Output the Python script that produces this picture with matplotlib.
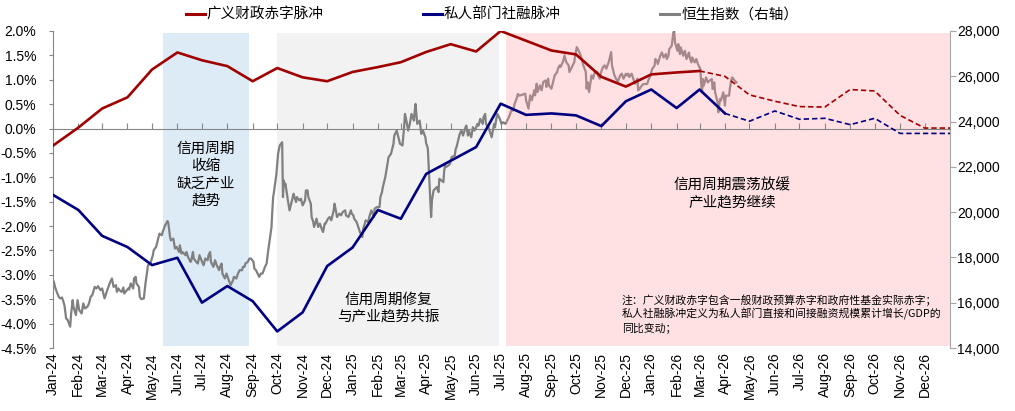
import matplotlib
matplotlib.use("Agg")
import matplotlib.pyplot as plt
import matplotlib.dates as mdates
import matplotlib.ticker as mticker
from matplotlib.lines import Line2D
import numpy as np
import pandas as pd

plt.rcParams["font.family"] = ["Liberation Sans", "Noto Sans CJK SC", "DejaVu Sans"]

# ---- 数据 ----
months = pd.date_range("2024-01-01", "2027-01-01", freq="MS")
fiscal_pulse = [-0.35, 0.02, 0.41, 0.64, 1.21, 1.56, 1.40, 1.28, 0.97, 1.24, 1.05, 0.97,
                1.16, 1.26, 1.36, 1.57, 1.73, 1.58, 2.00, 1.80, 1.60, 1.52, 1.06, 0.86,
                1.11, 1.15, 1.18, 1.07, 0.69, 0.56, 0.45, 0.44, 0.80, 0.77, 0.27, 0.01,
                0.01]
private_pulse = [-1.36, -1.67, -2.20, -2.43, -2.80, -2.65, -3.57, -3.23, -3.54, -4.16, -3.77, -2.82,
                 -2.44, -1.67, -1.85, -0.93, -0.66, -0.38, 0.51, 0.28, 0.31, 0.27, 0.05, 0.56,
                 0.80, 0.42, 0.80, 0.31, 0.15, 0.36, 0.19, 0.21, 0.08, 0.21, -0.10, -0.10,
                 -0.10]
fiscal_n_actual = 27    # 实线到 Mar-26，之后为预测虚线
private_n_actual = 28   # 实线到 Apr-26

hsi_dates = [
    "2024-01-02", "2024-01-04", "2024-01-08", "2024-01-10", "2024-01-12", "2024-01-15", "2024-01-17",
    "2024-01-19", "2024-01-22", "2024-01-23", "2024-01-25", "2024-01-26", "2024-01-29", "2024-01-31",
    "2024-02-02", "2024-02-05", "2024-02-07", "2024-02-09", "2024-02-12", "2024-02-14", "2024-02-16",
    "2024-02-18", "2024-02-21", "2024-02-23", "2024-02-25", "2024-02-28", "2024-03-01", "2024-03-04",
    "2024-03-06", "2024-03-08", "2024-03-11", "2024-03-13", "2024-03-15", "2024-03-18", "2024-03-19",
    "2024-03-21", "2024-03-22", "2024-03-25", "2024-03-27", "2024-03-28", "2024-04-02", "2024-04-03",
    "2024-04-05", "2024-04-08", "2024-04-09", "2024-04-11", "2024-04-12", "2024-04-15", "2024-04-16",
    "2024-04-18", "2024-04-21", "2024-04-23", "2024-04-25", "2024-04-26", "2024-04-29", "2024-05-02",
    "2024-05-03", "2024-05-06", "2024-05-07", "2024-05-10", "2024-05-13", "2024-05-14", "2024-05-17",
    "2024-05-20", "2024-05-21", "2024-05-23", "2024-05-24", "2024-05-27", "2024-05-29", "2024-05-31",
    "2024-06-03", "2024-06-04", "2024-06-06", "2024-06-07", "2024-06-11", "2024-06-12", "2024-06-14",
    "2024-06-17", "2024-06-18", "2024-06-20", "2024-06-21", "2024-06-24", "2024-06-26", "2024-06-28",
    "2024-07-02", "2024-07-03", "2024-07-05", "2024-07-08", "2024-07-09", "2024-07-11", "2024-07-12",
    "2024-07-15", "2024-07-17", "2024-07-19", "2024-07-22", "2024-07-23", "2024-07-25", "2024-07-26",
    "2024-07-29", "2024-07-31", "2024-08-02", "2024-08-05", "2024-08-06", "2024-08-08", "2024-08-09",
    "2024-08-12", "2024-08-14", "2024-08-16", "2024-08-19", "2024-08-20", "2024-08-22", "2024-08-23",
    "2024-08-26", "2024-08-28", "2024-08-30", "2024-09-02", "2024-09-03", "2024-09-05", "2024-09-06",
    "2024-09-09", "2024-09-11", "2024-09-13", "2024-09-16", "2024-09-18", "2024-09-19", "2024-09-20",
    "2024-09-24", "2024-09-25", "2024-09-26", "2024-09-27", "2024-09-30", "2024-10-02", "2024-10-04",
    "2024-10-07", "2024-10-08", "2024-10-09", "2024-10-10", "2024-10-11", "2024-10-14", "2024-10-16",
    "2024-10-18", "2024-10-21", "2024-10-22", "2024-10-24", "2024-10-25", "2024-10-28", "2024-10-30",
    "2024-11-01", "2024-11-04", "2024-11-05", "2024-11-07", "2024-11-08", "2024-11-11", "2024-11-12",
    "2024-11-14", "2024-11-15", "2024-11-18", "2024-11-20", "2024-11-22", "2024-11-25", "2024-11-26",
    "2024-11-28", "2024-11-29", "2024-12-02", "2024-12-04", "2024-12-06", "2024-12-09", "2024-12-10",
    "2024-12-12", "2024-12-13", "2024-12-16", "2024-12-18", "2024-12-20", "2024-12-23", "2024-12-24",
    "2024-12-27", "2024-12-30", "2024-12-31",
    "2025-01-02", "2025-01-03", "2025-01-06", "2025-01-08", "2025-01-10", "2025-01-13", "2025-01-14",
    "2025-01-16", "2025-01-17", "2025-01-20", "2025-01-22", "2025-01-24", "2025-01-27", "2025-01-28",
    "2025-01-31", "2025-02-03", "2025-02-04", "2025-02-06", "2025-02-07", "2025-02-10", "2025-02-12",
    "2025-02-14", "2025-02-17", "2025-02-18", "2025-02-20", "2025-02-21", "2025-02-24", "2025-02-26",
    "2025-02-28", "2025-03-03", "2025-03-05", "2025-03-06", "2025-03-07", "2025-03-10", "2025-03-12",
    "2025-03-14", "2025-03-17", "2025-03-18", "2025-03-19", "2025-03-21", "2025-03-24", "2025-03-26",
    "2025-03-28", "2025-03-31", "2025-04-01", "2025-04-02", "2025-04-03", "2025-04-07", "2025-04-08",
    "2025-04-10", "2025-04-14", "2025-04-16", "2025-04-17", "2025-04-22", "2025-04-23", "2025-04-24",
    "2025-04-25", "2025-04-28", "2025-04-30", "2025-05-02", "2025-05-06", "2025-05-07", "2025-05-08",
    "2025-05-09", "2025-05-12", "2025-05-14", "2025-05-16", "2025-05-19", "2025-05-20", "2025-05-22",
    "2025-05-23", "2025-05-26", "2025-05-28", "2025-05-30", "2025-06-03", "2025-06-04", "2025-06-06",
    "2025-06-09", "2025-06-10", "2025-06-12", "2025-06-13", "2025-06-16", "2025-06-18", "2025-06-20",
    "2025-06-23", "2025-06-24", "2025-06-26", "2025-06-27", "2025-06-30", "2025-07-02", "2025-07-04",
    "2025-07-07", "2025-07-08", "2025-07-10", "2025-07-11", "2025-07-14", "2025-07-16", "2025-07-18",
    "2025-07-21", "2025-07-22", "2025-07-24", "2025-07-31", "2025-08-01", "2025-08-04", "2025-08-06",
    "2025-08-08", "2025-08-11", "2025-08-12", "2025-08-14", "2025-08-15", "2025-08-18", "2025-08-20",
    "2025-08-22", "2025-08-25", "2025-08-26", "2025-08-28", "2025-08-29", "2025-09-01", "2025-09-03",
    "2025-09-05", "2025-09-08", "2025-09-09", "2025-09-11", "2025-09-12", "2025-09-15", "2025-09-17",
    "2025-09-19", "2025-09-22", "2025-09-23", "2025-09-25", "2025-09-29", "2025-09-30", "2025-10-02",
    "2025-10-03", "2025-10-06", "2025-10-08", "2025-10-09", "2025-10-10", "2025-10-13", "2025-10-14",
    "2025-10-15", "2025-10-17", "2025-10-20", "2025-10-22", "2025-10-24", "2025-10-27", "2025-10-28",
    "2025-10-30", "2025-10-31", "2025-11-03", "2025-11-05", "2025-11-07", "2025-11-10", "2025-11-11",
    "2025-11-13", "2025-11-14", "2025-11-17", "2025-11-18", "2025-11-20", "2025-11-21", "2025-11-24",
    "2025-11-26", "2025-11-28", "2025-12-01", "2025-12-02", "2025-12-04", "2025-12-05", "2025-12-08",
    "2025-12-10", "2025-12-12", "2025-12-15", "2025-12-16", "2025-12-18", "2025-12-19", "2025-12-22",
    "2025-12-24", "2025-12-27", "2025-12-29", "2025-12-31",
    "2026-01-02", "2026-01-05", "2026-01-06", "2026-01-08", "2026-01-09", "2026-01-12", "2026-01-14",
    "2026-01-16", "2026-01-19", "2026-01-20", "2026-01-22", "2026-01-23", "2026-01-26", "2026-01-28",
    "2026-01-29", "2026-01-30", "2026-02-02", "2026-02-03", "2026-02-05", "2026-02-06", "2026-02-09",
    "2026-02-11", "2026-02-13", "2026-02-16", "2026-02-17", "2026-02-19", "2026-02-20", "2026-02-23",
    "2026-02-25", "2026-02-27", "2026-03-02", "2026-03-03", "2026-03-04", "2026-03-05", "2026-03-06",
    "2026-03-09", "2026-03-11", "2026-03-13", "2026-03-16", "2026-03-17", "2026-03-19", "2026-03-20",
    "2026-03-23", "2026-03-24", "2026-03-26", "2026-03-27", "2026-03-30", "2026-04-01", "2026-04-02",
    "2026-04-06", "2026-04-07", "2026-04-09", "2026-04-10", "2026-04-13", "2026-04-15",
]
hsi_values = [
    16921, 16630, 16260, 16189, 16233, 15894, 15308,
    15233, 14940, 15454, 16114, 15820, 15454, 16114,
    15674, 15527, 15968, 15747, 15820, 15968, 16260,
    16335, 16700, 16630, 16731, 16555, 16630, 16189,
    16408, 16630, 16921, 17070, 16700, 16775, 16480,
    16630, 16555, 16480, 16673, 16408, 16630, 16584,
    16850, 16630, 17070, 17141, 16850, 16700, 16260,
    16158, 16189, 16850, 17361, 17656, 17729, 18097,
    18317, 18463, 18612, 19052, 18978, 19123, 19418,
    19608, 19493, 18903, 18757, 18831, 18391, 18463,
    18242, 18537, 18171, 18242, 18097, 18242, 18022,
    17802, 17876, 18242, 17950, 17802, 17729, 18097,
    17729, 17656, 17950, 17876, 18097, 18242, 17802,
    17583, 17876, 17656, 17436, 17583, 17729, 17289,
    17070, 17289, 17070, 16775, 16850, 16995, 17141,
    17070, 17289, 17436, 17436, 17583, 17583, 17729,
    17802, 17950, 17950, 17802, 17509, 17436, 17361,
    17141, 17289, 17289, 17583, 17729, 18022, 18317,
    19344, 20079, 20665, 20886, 21695, 22576, 22942,
    23088, 20665, 21400, 21180, 21255, 20519, 20079,
    20374, 20814, 20665, 20445, 20665, 20519, 20594,
    20299, 20519, 20960, 20960, 20665, 20374, 19784,
    19565, 19344, 19711, 19344, 19493, 19198, 19123,
    19493, 19493, 19711, 19784, 19638, 20079, 20374,
    20004, 19784, 19933, 19859, 20004, 20079, 19859,
    19784, 20079, 19933,
    19859, 19711, 19565, 19344, 19123, 18903, 19273,
    19493, 19638, 19565, 19859, 20079, 19784, 20154,
    20225, 20225, 20665, 20886, 21105, 21545, 21986,
    22426, 22576, 22722, 23017, 23383, 23603, 23308,
    23017, 22942, 23749, 24339, 24189, 23603, 23897,
    24339, 24043, 24484, 24779, 23897, 24043, 23457,
    23603, 23308, 23017, 22942, 22797, 19784, 20519,
    20960, 21105, 20886, 21475, 21326, 21841, 22061,
    21986, 22061, 22135, 22426, 22502, 22797, 22867,
    23017, 23457, 23603, 23383, 23749, 23823, 23383,
    23603, 23308, 23749, 23603, 23897, 23823, 24118,
    23897, 24189, 24339, 23897, 23749, 23530, 23308,
    23897, 23749, 24189, 24339, 24118, 23897, 23970,
    23897, 23970, 24118, 24189, 24484, 24484, 24779,
    25070, 25219, 25145, 25233, 24939, 24572, 25159,
    24939, 25379, 25159, 25673, 25306, 25599, 25379,
    25748, 25819, 25528, 25894, 25599, 25453, 25748,
    26039, 26189, 26334, 26479, 26409, 26629, 26920,
    26629, 26479, 26189, 26334, 26629, 26920, 27290,
    27215, 26995, 26775, 26629, 26479, 26189, 25453,
    25748, 25306, 26039, 25894, 26189, 26189, 26039,
    25894, 26114, 26409, 26479, 26334, 26629, 26775,
    27069, 26479, 26039, 25968, 25819, 25748, 26039,
    26114, 25894, 26114, 26039, 26114, 25968, 26114,
    25894, 25673, 25894, 25379, 25453, 25528, 25650,
    25660, 25660, 25880, 26025,
    26322, 26466, 26762, 26687, 26541, 26907, 27054,
    26833, 26981, 26762, 26907, 27202, 27347, 27933,
    27990, 27493, 27127, 27421, 26981, 27273, 26907,
    27127, 26762, 27054, 26833, 26612, 26833, 26612,
    26762, 26541, 26322, 25660, 25291, 25880, 25585,
    25951, 25731, 25805, 25880, 25440, 25731, 25291,
    24850, 24410, 25000, 24924, 25291, 24704, 25145,
    25145, 25440, 25880, 25951, 25805, 25731,
]

phase_start = ["2024-05-14", "2024-10-01", "2025-07-08"]
phase_end = ["2024-08-27", "2025-06-29", "2027-01-01"]
phase_labels = ["信用周期\n收缩\n缺乏产业\n趋势", "信用周期修复\n与产业趋势共振", "信用周期震荡放缓\n产业趋势继续"]

note = ("注：广义财政赤字包含一般财政预算赤字和政府性基金实际赤字；\n"
        "私人社融脉冲定义为私人部门直接和间接融资规模累计增长/GDP的\n"
        "同比变动；")

RED = "#A00000"
BLUE = "#000080"
GRAY = "#808080"
AXIS = "#868686"

# ---- 图 ----
fig = plt.figure(figsize=(10.15, 4.11), dpi=100)
ax = fig.add_axes([53 / 1015, 1 - 348 / 411, 897 / 1015, 317 / 411])
ax2 = ax.twinx()
ax.set_zorder(ax2.get_zorder() + 1)
ax.patch.set_visible(False)

ps = pd.to_datetime(phase_start)
pe = pd.to_datetime(phase_end)
ax2.axvspan(ps[0], pe[0], ymin=0.005, ymax=0.993, color="#DDEBF7", lw=0, zorder=0)
ax2.axvspan(ps[1], pe[1], ymin=0.005, ymax=0.993, color="#F2F2F2", lw=0, zorder=0)
# 粉色区域半透明盖在恒指线上
ax.axvspan(ps[2], pe[2], ymin=0.005, ymax=0.993, color=(1.0, 0.61, 0.65), alpha=0.3, lw=0, zorder=0)

ax2.plot(pd.to_datetime(hsi_dates), hsi_values, color=GRAY, lw=1.6, zorder=2)

fp = np.array(fiscal_pulse)
pp = np.array(private_pulse)
ax.plot(months[:fiscal_n_actual], fp[:fiscal_n_actual], color=RED, lw=1.9, zorder=3)
ax.plot(months[fiscal_n_actual - 1:], fp[fiscal_n_actual - 1:], color=RED, lw=1.2,
        dashes=(3.2, 1.8), zorder=3)
ax.plot(months[:private_n_actual], pp[:private_n_actual], color=BLUE, lw=1.9, zorder=3)
ax.plot(months[private_n_actual - 1:], pp[private_n_actual - 1:], color=BLUE, lw=1.2,
        dashes=(3.2, 1.8), zorder=3)

ax.set_xlim(months[0], months[-1])
ax.set_ylim(-4.5, 2.0)
ax2.set_ylim(14000, 28000)

ax.set_yticks(np.arange(-4.5, 2.01, 0.5))
ax.yaxis.set_major_formatter(mticker.FuncFormatter(lambda v, _: f"{v:.1f}%"))
ax2.set_yticks(np.arange(14000, 28001, 2000))
ax2.yaxis.set_major_formatter(mticker.FuncFormatter(lambda v, _: f"{v:,.0f}"))

ax.xaxis.set_major_locator(mdates.MonthLocator())
ax.xaxis.set_major_formatter(mdates.DateFormatter("%b-%y"))
ax.set_xticks(months[:-1])
ax.tick_params(axis="x", length=0, labelsize=10, rotation=90, pad=3)
ax.tick_params(axis="y", length=3, color=AXIS, labelsize=10, pad=9)
ax2.tick_params(axis="y", length=4, color="#B0A0A0", labelsize=10, pad=1)

for s in ["top", "right", "bottom"]:
    ax.spines[s].set_visible(False)
for s in ["top", "left", "bottom"]:
    ax2.spines[s].set_visible(False)
ax.spines["left"].set_color(AXIS)
ax2.spines["right"].set_color("#A6A6A6")

# 横轴线位于 0% 处，刻度朝上
zero_axis = ax.secondary_xaxis(0, transform=ax.transData)
zero_axis.set_xticks(months[:-1])
zero_axis.tick_params(axis="x", direction="in", length=4, color=AXIS, labelbottom=False)
zero_axis.spines["bottom"].set_color(AXIS)

# 区间注释
txt = dict(transform=ax.transAxes, ha="center", va="center", fontsize=10.5,
           linespacing=1.3, family=["Noto Sans CJK SC", "DejaVu Sans"])
ax.text(0.1706, 0.546, phase_labels[0], **txt)
ax.text(0.3735, 0.125, phase_labels[1], **txt)
ax.text(0.757, 0.487, phase_labels[2], **txt)
ax.text(0.6343, 0.107, note, transform=ax.transAxes, ha="left", va="center", fontsize=7.8,
        style="italic", linespacing=1.25, family=["Noto Sans CJK SC", "DejaVu Sans"])

handles = [Line2D([], [], color=RED, lw=2.2), Line2D([], [], color=BLUE, lw=2.2),
           Line2D([], [], color=GRAY, lw=2.2)]
fig.legend(handles, ["广义财政赤字脉冲", "私人部门社融脉冲", "恒生指数（右轴）"],
           loc="center", bbox_to_anchor=(492 / 1015, 1 - 15 / 411), ncol=3, frameon=False,
           fontsize=10.5, handlelength=1.3, handletextpad=0.15, columnspacing=6.8,
           prop={"family": ["Noto Sans CJK SC", "DejaVu Sans"], "size": 10.5})

fig.savefig("out.png", dpi=100)
